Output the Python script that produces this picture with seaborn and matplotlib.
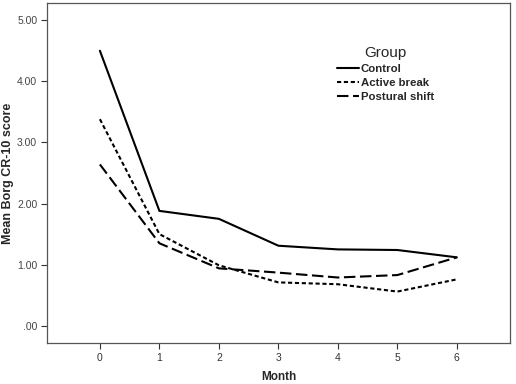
import matplotlib
matplotlib.use("Agg")
import matplotlib.pyplot as plt
import seaborn as sns
import pandas as pd
from matplotlib.lines import Line2D

months = [0, 1, 2, 3, 4, 5, 6]
control = [4.50, 1.88, 1.75, 1.31, 1.25, 1.24, 1.12]
active_break = [3.38, 1.50, 0.99, 0.71, 0.68, 0.56, 0.76]
postural_shift = [2.64, 1.35, 0.94, 0.87, 0.79, 0.83, 1.12]
groups = ["Control", "Active break", "Postural shift"]
y_ticks = [0, 1, 2, 3, 4, 5]
y_tick_labels = [".00", "1.00", "2.00", "3.00", "4.00", "5.00"]

df = pd.DataFrame({
    "Month": months * 3,
    "score": control + active_break + postural_shift,
    "Group": [groups[0]] * 7 + [groups[1]] * 7 + [groups[2]] * 7,
})

sns.set_theme(style="white")
plt.rcParams["font.family"] = ["Liberation Sans", "DejaVu Sans"]

fig = plt.figure(figsize=(5.16, 3.84), dpi=100)
ax = fig.add_axes([0.091, 0.107, 0.897, 0.885])

dash_map = {"Control": "", "Active break": (2.0, 1.3), "Postural shift": (5.5, 2.2)}
sns.lineplot(data=df, x="Month", y="score", hue="Group", style="Group",
             palette=["black"] * 3, dashes=dash_map, linewidth=1.5,
             legend=False, ax=ax)

ax.set_xlim(-0.89, 6.89)
ax.set_ylim(-0.28, 5.28)
ax.set_xticks(months)
ax.set_xticklabels([str(m) for m in months], fontsize=7.5, color="#333333")
ax.set_yticks(y_ticks)
ax.set_yticklabels(y_tick_labels, fontsize=7.5, color="#444444")
ax.tick_params(axis="both", direction="out", length=4, width=0.8, color="#333333",
               bottom=True, left=True, pad=3)
for s in ax.spines.values():
    s.set_color("#555555")
    s.set_linewidth(0.9)

ax.set_xlabel("Month", fontsize=8.5, fontweight="bold", labelpad=6)
ax.set_ylabel("Mean Borg CR-10 score", fontsize=9, fontweight="bold")
ax.yaxis.set_label_coords(-0.071, 0.5)

handles = [
    Line2D([0], [0], color="black", lw=1.5, linestyle="-"),
    Line2D([0], [0], color="black", lw=1.5, linestyle=(0, (2.0, 1.3))),
    Line2D([0], [0], color="black", lw=1.5, linestyle=(0, (5.5, 2.2))),
]
leg = ax.legend(handles, groups, title="Group", loc="upper left",
                bbox_to_anchor=(0.605, 0.905), frameon=False,
                prop={"size": 8.2, "weight": "bold"},
                handlelength=1.9, handletextpad=0.15, labelspacing=0.35)
leg.get_title().set_fontsize(11)
leg.get_title().set_fontweight("normal")

fig.savefig("out.png", dpi=100)
